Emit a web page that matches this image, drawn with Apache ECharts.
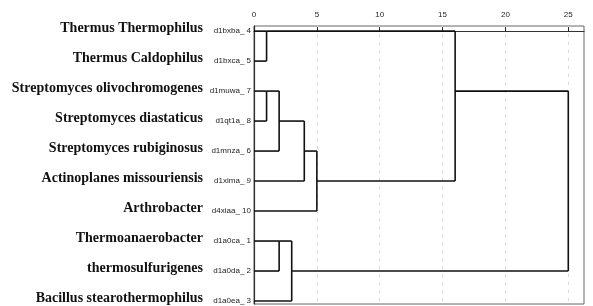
<html>
<head>
    <meta charset="utf-8">
    <script src="https://cdn.jsdelivr.net/npm/echarts@6/dist/echarts.min.js"></script>
</head>
<body style="margin: 0; background: #fff">
    <div id="container" style="width: 593px; height: 306px"></div>
    <script>
        // leaves, top to bottom
        var leafLabels = ['d1bxba_ 4', 'd1bxca_ 5', 'd1muwa_ 7', 'd1qt1a_ 8', 'd1mnza_ 6',
            'd1xima_ 9', 'd4xiaa_ 10', 'd1a0ca_ 1', 'd1a0da_ 2', 'd1a0ea_ 3'];
        var speciesNames = ['Thermus Thermophilus', 'Thermus Caldophilus', 'Streptomyces olivochromogenes',
            'Streptomyces diastaticus', 'Streptomyces rubiginosus', 'Actinoplanes missouriensis',
            'Arthrobacter', 'Thermoanaerobacter', 'thermosulfurigenes', 'Bacillus stearothermophilus'];
        // merges: [cluster a, cluster b, rescaled distance]; new clusters numbered from 10
        var merges = [
            [0, 1, 1],
            [2, 3, 1],
            [11, 4, 2],
            [7, 8, 2],
            [13, 9, 3],
            [12, 5, 4],
            [15, 6, 5],
            [10, 16, 16],
            [17, 14, 25]
        ];
        var xTicks = [0, 5, 10, 15, 20, 25];

        // build the dendrogram segments
        var pos = leafLabels.map(function (l, i) { return i; });
        var hgt = leafLabels.map(function () { return 0; });
        var segs = [];
        merges.forEach(function (m) {
            var a = m[0], b = m[1], h = m[2];
            segs.push([hgt[a], pos[a], h, pos[a]]);
            segs.push([hgt[b], pos[b], h, pos[b]]);
            segs.push([h, pos[a], h, pos[b]]);
            pos.push(Math.floor((pos[a] + pos[b]) / 2));
            hgt.push(h);
        });

        var myChart = echarts.init(document.getElementById('container'));
        var rows = leafLabels.map(function (l, i) { return i; });
        option = {
            animation: false,
            grid: {
                left: 254, right: 9, top: 26, bottom: 2,
                outerBoundsMode: 'none',
                show: true, borderColor: '#666', borderWidth: 1
            },
            xAxis: {
                type: 'value',
                position: 'top',
                min: 0, max: 26.25,
                interval: 5,
                axisLine: { show: true, lineStyle: { color: '#333', width: 1.2 } },
                axisTick: {
                    show: true,
                    length: 4,
                    customValues: xTicks,
                    lineStyle: { color: '#222' }
                },
                axisLabel: {
                    margin: 7,
                    fontSize: 8,
                    color: '#222',
                    fontFamily: 'Liberation Sans',
                    customValues: xTicks
                },
                splitLine: {
                    show: true,
                    lineStyle: { color: '#d8d8d8', type: [3, 5], width: 1 }
                }
            },
            yAxis: [{
                type: 'value',
                inverse: true,
                min: -0.17, max: 9.1,
                axisLine: { show: true, lineStyle: { color: '#333', width: 1.2 } },
                axisTick: { show: false },
                splitLine: { show: false },
                axisLabel: {
                    customValues: rows,
                    margin: 3,
                    fontSize: 8,
                    color: '#222',
                    fontFamily: 'Liberation Sans',
                    formatter: function (v) { return leafLabels[Math.round(v)]; }
                }
            }, {
                type: 'value',
                inverse: true,
                position: 'left',
                min: -0.17, max: 9.1,
                axisLine: { show: false },
                axisTick: { show: false },
                splitLine: { show: false },
                axisLabel: {
                    customValues: rows,
                    margin: 51,
                    fontSize: 14,
                    fontWeight: 'bold',
                    color: '#111',
                    fontFamily: 'Liberation Serif',
                    verticalAlign: 'bottom',
                    lineHeight: 5,
                    formatter: function (v) { return speciesNames[Math.round(v)]; }
                }
            }],
            series: [{
                type: 'custom',
                silent: true,
                data: segs,
                encode: { x: [0, 2], y: [1, 3] },
                renderItem: function (params, api) {
                    var p1 = api.coord([api.value(0), api.value(1)]);
                    var p2 = api.coord([api.value(2), api.value(3)]);
                    return {
                        type: 'line',
                        shape: { x1: p1[0], y1: p1[1], x2: p2[0], y2: p2[1] },
                        style: { stroke: '#111', lineWidth: 1.6 }
                    };
                }
            }]
        };
        myChart.setOption(option);
    </script>
</body>
</html>
